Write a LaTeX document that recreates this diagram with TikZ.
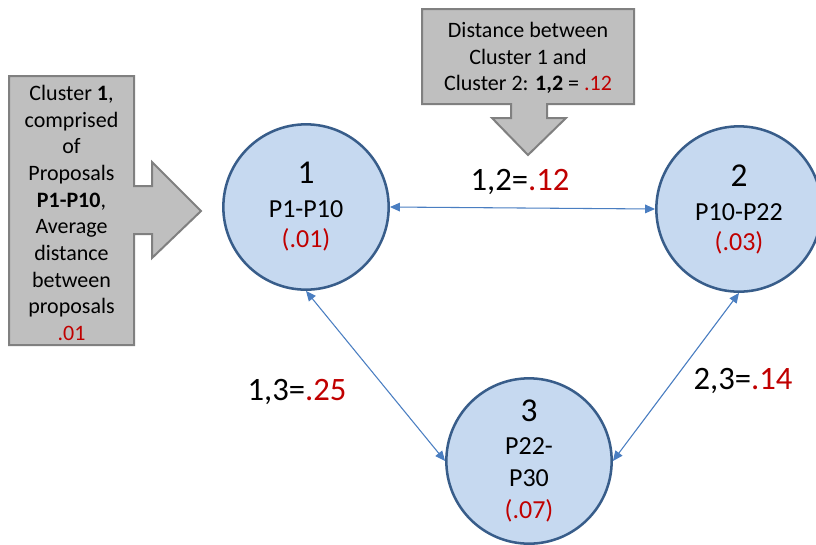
\documentclass[tikz,border=0pt]{standalone}
\usepackage{fontspec}
\setmainfont{Carlito}
\usetikzlibrary{arrows.meta}
\definecolor{nodefill}{RGB}{198,217,240}
\definecolor{nodeedge}{RGB}{ 56, 93,138}
\definecolor{linkcol} {RGB}{ 74,126,193}
\definecolor{notefill}{RGB}{191,191,191}
\definecolor{noteedge}{RGB}{128,128,128}
\definecolor{valcol}  {RGB}{192,  0,  0}

\begin{document}
\begin{tikzpicture}[
  % one unit = one pixel of the 816 x 544 canvas, y running downwards
  x=0.75pt, y=-0.75pt,
  >={Triangle[length=7.5pt,width=6.5pt]},
  line cap=round,line join=round,
  cluster/.style={circle,draw=nodeedge,fill=nodefill,line width=1.9pt,
    minimum size=124pt,inner sep=0pt,align=center,
    font=\fontsize{19.5}{22.5}\selectfont},
  link/.style={linkcol,line width=0.8pt,<->},
  distlabel/.style={font=\fontsize{24.5}{28}\selectfont,inner sep=0pt},
  callout/.style={fill=notefill,draw=noteedge,line width=1.5pt,line join=miter},
  notetext/.style={align=center,inner sep=0pt,font=\fontsize{16.5}{20}\selectfont}
]
\useasboundingbox (0,0) rectangle (816,544);

% ---- callout boxes -------------------------------------------------------
\draw[callout] (9,76) -- (134,76) -- (134,186) -- (152,186) -- (152,162)
  -- (201,211) -- (152,258) -- (152,234) -- (134,234) -- (134,345)
  -- (9,345) -- cycle;
\node[notetext] (note1) at (71.5,213)
  {Cluster \textbf{1},\\ comprised\\ of\\ Proposals\\ \textbf{P1-P10},\\
   Average\\ distance\\ between\\ proposals\\ \textcolor{valcol}{.01}};

\draw[callout] (422,9) -- (634,9) -- (634,104) -- (547,104) -- (547,118)
  -- (566,118) -- (528,155) -- (492,118) -- (511,118) -- (511,104)
  -- (422,104) -- cycle;
\node[notetext] (note12) at (528,58)
  {Distance between\\ Cluster 1 and\\
   Cluster 2: \textbf{1,2} = \textcolor{valcol}{.12}};

% ---- clusters ------------------------------------------------------------
\node[cluster] (c1) at (306,207)
  {{\fontsize{25}{30}\selectfont 1}\\[3pt] P1-P10\\ \textcolor{valcol}{(.01)}};
\node[cluster] (c2) at (739,209)
  {{\fontsize{25}{30}\selectfont 2}\\[3pt] P10-P22\\ \textcolor{valcol}{(.03)}};
\node[cluster] (c3) at (529,461)
  {{\fontsize{25}{30}\selectfont 3}\\[2pt] P22-\\[1.5pt] P30\\[1.5pt]
   \textcolor{valcol}{(.07)}};

% ---- distances -----------------------------------------------------------
\draw[link] (c1.east) -- (c2.west);
\draw[link] (c1.south) -- (c3.west);
\draw[link] (c2.south) -- (c3.east);

\node[distlabel] (d12) at (520,182) {1,2=\textcolor{valcol}{.12}};
\node[distlabel] (d13) at (297,392) {1,3=\textcolor{valcol}{.25}};
\node[distlabel] (d23) at (743,381) {2,3=\textcolor{valcol}{.14}};

\end{tikzpicture}
\end{document}
